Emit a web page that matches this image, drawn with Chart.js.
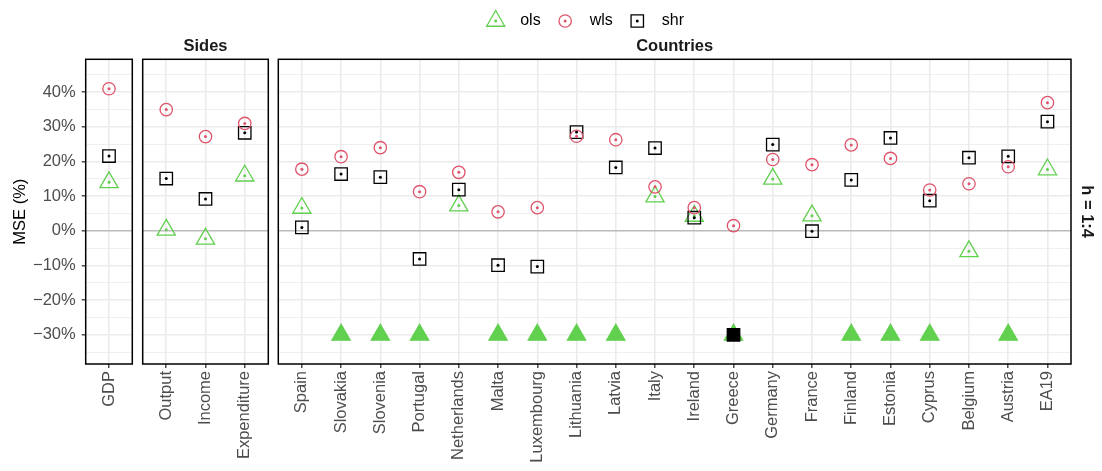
<!DOCTYPE html>
<html>
<head>
<meta charset="utf-8">
<script src="https://cdn.jsdelivr.net/npm/chart.js@4.4.0/dist/chart.umd.min.js"></script>
<style>
  body { margin: 0; background: #fff; }
  #wrap { position: relative; width: 1102px; height: 471px; }
  canvas { position: absolute; top: 0; }
</style>
</head>
<body>
<div id="wrap">
  <canvas id="gdp" width="137" height="471" style="left:0px"></canvas>
  <canvas id="sides" width="136" height="471" style="left:137px"></canvas>
  <canvas id="countries" width="829" height="471" style="left:273px"></canvas>
</div>
<script>
const gdpLabels = ['GDP'];
const sidesLabels = ['Output', 'Income', 'Expenditure'];
const countryLabels = ['Spain', 'Slovakia', 'Slovenia', 'Portugal', 'Netherlands', 'Malta',
  'Luxembourg', 'Lithuania', 'Latvia', 'Italy', 'Ireland', 'Greece', 'Germany', 'France',
  'Finland', 'Estonia', 'Cyprus', 'Belgium', 'Austria', 'EA19'];

// MSE change in %; -30 means off the bottom of the plot (drawn as a filled marker)
const olsGdp = [14.0];
const wlsGdp = [41.0];
const shrGdp = [21.6];

const olsSides = [0.3, -2.3, 15.9];
const wlsSides = [35.0, 27.2, 31.0];
const shrSides = [15.1, 9.2, 28.3];

const olsCountries = [6.6, -30, -30, -30, 7.3, -30, -30, -30, -30, 9.9, 4.3, -30, 15.0, 4.4, -30, -30, -30, -5.9, -30, 17.7];
const wlsCountries = [17.8, 21.4, 24.0, 11.3, 16.9, 5.5, 6.7, 27.3, 26.3, 12.7, 6.7, 1.5, 20.6, 19.1, 24.8, 20.9, 11.8, 13.6, 18.5, 37.0];
const shrCountries = [1.0, 16.4, 15.5, -8.1, 11.9, -9.9, -10.3, 28.5, 18.3, 23.9, 3.8, -30, 24.9, -0.1, 14.7, 26.8, 8.7, 21.1, 21.5, 31.5];

const yTicks = [-35, -30, -25, -20, -15, -10, -5, 0, 5, 10, 15, 20, 25, 30, 35, 40, 45];
const FLOOR = -30;
const YMIN = -38.4, YMAX = 49.5;

const GREEN = '#61D04F', RED = '#DF536B', BLACK = '#000000';
const FONT = '"Liberation Sans", Arial, sans-serif';
const FS = 16.5;

function pts(vals, skipFloor) {
  return vals.map((v, i) => ({ x: i, y: v })).filter(p => !(skipFloor && p.y <= FLOOR));
}

function series(vals, color, style, radius) {
  return [{
    data: pts(vals, false),
    pointStyle: style,
    pointRadius: radius,
    pointBorderWidth: 1.3,
    pointBorderColor: color,
    pointBackgroundColor: c => (c.raw && c.raw.y <= FLOOR) ? color : 'rgba(0,0,0,0)'
  }, {
    data: pts(vals, true),
    pointStyle: 'circle',
    pointRadius: 1.5,
    pointBorderWidth: 0,
    pointBackgroundColor: color
  }];
}

function drawMarker(ctx, kind, color, x, y) {
  ctx.strokeStyle = color;
  ctx.fillStyle = color;
  ctx.lineWidth = 1.3;
  ctx.beginPath();
  if (kind === 'triangle') {
    const r = 10.5;
    ctx.moveTo(x, y - r);
    ctx.lineTo(x + r * 0.866, y + r / 2);
    ctx.lineTo(x - r * 0.866, y + r / 2);
    ctx.closePath();
  } else if (kind === 'circle') {
    ctx.arc(x, y, 6.2, 0, 2 * Math.PI);
  } else {
    const h = 6.2;
    ctx.rect(x - h, y - h, 2 * h, 2 * h);
  }
  ctx.stroke();
  ctx.beginPath();
  ctx.arc(x, y, 1.5, 0, 2 * Math.PI);
  ctx.fill();
}

const decor = {
  id: 'decor',
  afterDraw(chart, args, o) {
    const { ctx, chartArea: a } = chart;
    ctx.save();
    ctx.strokeStyle = '#000';
    ctx.lineWidth = 1.5;
    ctx.strokeRect(a.left, a.top, a.right - a.left, a.bottom - a.top);

    ctx.textAlign = 'center';
    ctx.textBaseline = 'middle';
    if (o.strip) {
      ctx.font = 'bold ' + FS + 'px ' + FONT;
      ctx.fillStyle = '#1A1A1A';
      ctx.fillText(o.strip, (a.left + a.right) / 2, 46);
    }
    if (o.legend) {
      let x = 495.7 - o.offset;
      const y = 21;
      [['triangle', GREEN, 'ols'], ['circle', RED, 'wls'], ['rect', BLACK, 'shr']].forEach(k => {
        drawMarker(ctx, k[0], k[1], x, y);
        ctx.font = '16px ' + FONT;
        ctx.fillStyle = '#000';
        ctx.textAlign = 'left';
        ctx.fillText(k[2], x + 24.5, y);
        x += 24.5 + ctx.measureText(k[2]).width + 24.5;
      });
    }
    if (o.side) {
      ctx.font = 'bold ' + FS + 'px ' + FONT;
      ctx.fillStyle = '#1A1A1A';
      ctx.textAlign = 'center';
      ctx.translate(a.right + 16, (a.top + a.bottom) / 2);
      ctx.rotate(Math.PI / 2);
      ctx.fillText(o.side, 0, 0);
    }
    ctx.restore();
  }
};

function makePanel(id, labels, ols, wls, shr, opt) {
  new Chart(document.getElementById(id), {
    type: 'scatter',
    data: {
      datasets: [
        ...series(wls, RED, 'circle', 6.2),
        ...series(shr, BLACK, 'rect', 8.8),
        ...series(ols, GREEN, 'triangle', 10.5)
      ]
    },
    options: {
      responsive: false,
      animation: false,
      devicePixelRatio: 1,
      events: [],
      layout: { autoPadding: false, padding: { top: 59.3, right: opt.padRight, left: 0, bottom: 0 } },
      plugins: {
        legend: { display: false },
        tooltip: { enabled: false },
        decor: opt.decor
      },
      scales: {
        x: {
          type: 'linear',
          min: -0.6,
          max: labels.length - 0.4,
          afterBuildTicks: s => { s.ticks = labels.map((_, i) => ({ value: i })); },
          afterFit: s => { s.height = 471 - 364; s.paddingLeft = 0; s.paddingRight = 0; },
          ticks: {
            callback: v => labels[v],
            autoSkip: false,
            minRotation: 90,
            maxRotation: 90,
            color: '#4D4D4D',
            font: { family: FONT, size: FS },
            padding: 3
          },
          grid: { color: '#EBEBEB', lineWidth: 1.6, drawTicks: true, tickLength: 4, tickColor: '#333333', tickWidth: 1.3 },
          border: { display: false }
        },
        y: {
          min: YMIN,
          max: YMAX,
          afterBuildTicks: s => { s.ticks = yTicks.map(v => ({ value: v })); },
          afterFit: s => { s.width = opt.yWidth; s.paddingTop = 0; s.paddingBottom = 0; },
          ticks: {
            display: opt.showY,
            autoSkip: false,
            callback: v => v % 10 === 0 ? (v < 0 ? '\u2212' : '') + Math.abs(v) + '%' : '',
            color: '#4D4D4D',
            font: { family: FONT, size: FS },
            padding: 6
          },
          grid: {
            color: c => c.tick && c.tick.value === 0 ? '#BBBBBB' : '#EBEBEB',
            lineWidth: c => c.tick && c.tick.value % 10 === 0 ? 1.6 : 0.8,
            drawTicks: opt.showY,
            tickLength: 4,
            tickColor: c => c.tick && c.tick.value % 10 === 0 ? '#333333' : 'rgba(0,0,0,0)',
            tickWidth: 1.3
          },
          border: { display: false },
          title: {
            display: opt.showY,
            text: 'MSE (%)',
            color: '#000',
            font: { family: FONT, size: FS, lineHeight: 1.2 },
            padding: { top: 11, bottom: 0 }
          }
        }
      }
    },
    plugins: [decor]
  });
}

makePanel('gdp', gdpLabels, olsGdp, wlsGdp, shrGdp,
  { showY: true, yWidth: 85.7, padRight: 4.7, decor: {} });
makePanel('sides', sidesLabels, olsSides, wlsSides, shrSides,
  { showY: false, yWidth: 5.7, padRight: 4.7, decor: { strip: 'Sides' } });
makePanel('countries', countryLabels, olsCountries, wlsCountries, shrCountries,
  { showY: false, yWidth: 5.3, padRight: 31, decor: { strip: 'Countries', legend: true, offset: 273, side: 'h = 1:4' } });
</script>
</body>
</html>
